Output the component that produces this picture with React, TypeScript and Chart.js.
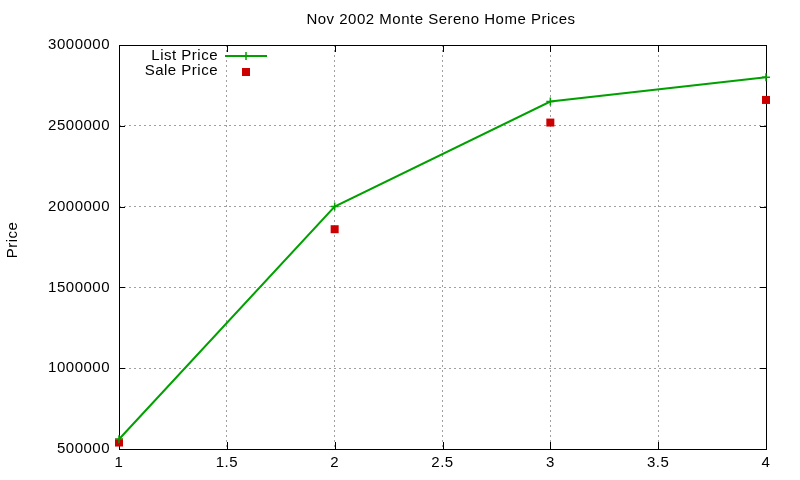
import { useEffect, useRef } from "react";
import { Chart, registerables } from "chart.js";

Chart.register(...registerables);

// values
const sizes = [1, 2, 3, 4];
const listPrice = [560000, 2000000, 2650000, 2800000];
const salePrice = [540000, 1860000, 2520000, 2660000];
const xTicks = [1, 1.5, 2, 2.5, 3, 3.5, 4];
const yTicks = [500000, 1000000, 1500000, 2000000, 2500000, 3000000];

const FONT = '"Liberation Sans", Arial, sans-serif';
const SPACING = "0.5px";
const GREEN = "#00a000";
const RED = "#cc0000";

const gnuplotLook = {
  id: "gnuplotLook",
  beforeDraw(chart: any) {
    chart.ctx.letterSpacing = SPACING;
  },
  beforeDatasetsDraw(chart: any) {
    const { ctx, chartArea: a, scales } = chart;
    ctx.save();
    ctx.strokeStyle = "#000";
    ctx.lineWidth = 1;
    ctx.beginPath();
    // inward ticks, mirrored on both sides
    xTicks.forEach((t) => {
      const x = Math.round(scales.x.getPixelForValue(t)) + 0.5;
      ctx.moveTo(x, a.bottom);
      ctx.lineTo(x, a.bottom - 7);
      ctx.moveTo(x, a.top);
      ctx.lineTo(x, a.top + 7);
    });
    yTicks.forEach((t) => {
      const y = Math.round(scales.y.getPixelForValue(t)) + 0.5;
      ctx.moveTo(a.left, y);
      ctx.lineTo(a.left + 6, y);
      ctx.moveTo(a.right, y);
      ctx.lineTo(a.right - 6, y);
    });
    ctx.stroke();
    ctx.strokeRect(Math.round(a.left) + 0.5, Math.round(a.top) + 0.5, Math.round(a.right - a.left), Math.round(a.bottom - a.top));
    ctx.restore();
  },
  afterDraw(chart: any) {
    const { ctx } = chart;
    ctx.save();
    ctx.letterSpacing = SPACING;
    ctx.fillStyle = "#000";
    ctx.font = `15px ${FONT}`;
    ctx.textBaseline = "middle";

    ctx.textAlign = "center";
    ctx.fillText("Nov 2002 Monte Sereno Home Prices", 441, 20);

    ctx.save();
    ctx.translate(13, 240);
    ctx.rotate(-Math.PI / 2);
    ctx.fillText("Price", 0, 0);
    ctx.restore();

    // legend, gnuplot style
    ctx.textAlign = "right";
    ctx.fillText("List Price", 218, 56);
    ctx.fillText("Sale Price", 218, 71);

    ctx.strokeStyle = GREEN;
    ctx.lineWidth = 2;
    ctx.beginPath();
    ctx.moveTo(225, 56);
    ctx.lineTo(267, 56);
    ctx.stroke();
    ctx.lineWidth = 1.5;
    ctx.beginPath();
    ctx.moveTo(246, 52);
    ctx.lineTo(246, 60);
    ctx.stroke();

    ctx.fillStyle = RED;
    ctx.fillRect(242, 68, 8, 8);
    ctx.restore();
  },
};

const App = () => {
  const chartRef = useRef<HTMLCanvasElement>(null);

  useEffect(() => {
    const ctx = chartRef.current!.getContext("2d")!;

    const chart = new Chart(ctx, {
      type: "line",
      data: {
        datasets: [
          {
            label: "List Price",
            data: sizes.map((x, i) => ({ x, y: listPrice[i] })),
            borderColor: GREEN,
            backgroundColor: GREEN,
            borderWidth: 2,
            pointStyle: "cross",
            pointRadius: 4,
            pointBorderWidth: 1.5,
            tension: 0,
            clip: false,
          },
          {
            label: "Sale Price",
            data: sizes.map((x, i) => ({ x, y: salePrice[i] })),
            showLine: false,
            backgroundColor: RED,
            borderColor: RED,
            borderWidth: 0,
            pointStyle: "rect",
            pointRadius: 5.66,
            pointBorderWidth: 0,
            clip: false,
          },
        ],
      },
      options: {
        responsive: false,
        animation: false,
        layout: { padding: { top: 45, right: 34, left: 0, bottom: 0 } },
        plugins: {
          legend: { display: false },
          title: { display: false },
          tooltip: { enabled: false },
        },
        scales: {
          x: {
            type: "linear",
            min: 1,
            max: 4,
            afterFit: (s: any) => {
              s.height = 31;
            },
            afterBuildTicks: (s: any) => {
              s.ticks = xTicks.map((value) => ({ value }));
            },
            ticks: {
              color: "#000",
              font: { family: FONT, size: 15 },
              padding: 5,
              maxRotation: 0,
              callback: (v: any) => String(v),
            },
            grid: { color: "#a0a0a0", lineWidth: 1, drawTicks: false },
            border: { display: false, dash: [2, 3] },
          },
          y: {
            type: "linear",
            min: 500000,
            max: 3000000,
            afterFit: (s: any) => {
              s.width = 119;
            },
            afterBuildTicks: (s: any) => {
              s.ticks = yTicks.map((value) => ({ value }));
            },
            ticks: {
              color: "#000",
              font: { family: FONT, size: 15 },
              padding: 9,
              callback: (v: any) => String(v),
            },
            grid: { color: "#a0a0a0", lineWidth: 1, drawTicks: false },
            border: { display: false, dash: [2, 3] },
          },
        },
      },
      plugins: [gnuplotLook],
    });

    return () => {
      chart.destroy();
    };
  }, []);

  return (
    <div style={{ position: "absolute", left: 0, top: 0, width: 800, height: 480, background: "#fff" }}>
      <canvas ref={chartRef} width={800} height={480}></canvas>
    </div>
  );
};

export default App;
